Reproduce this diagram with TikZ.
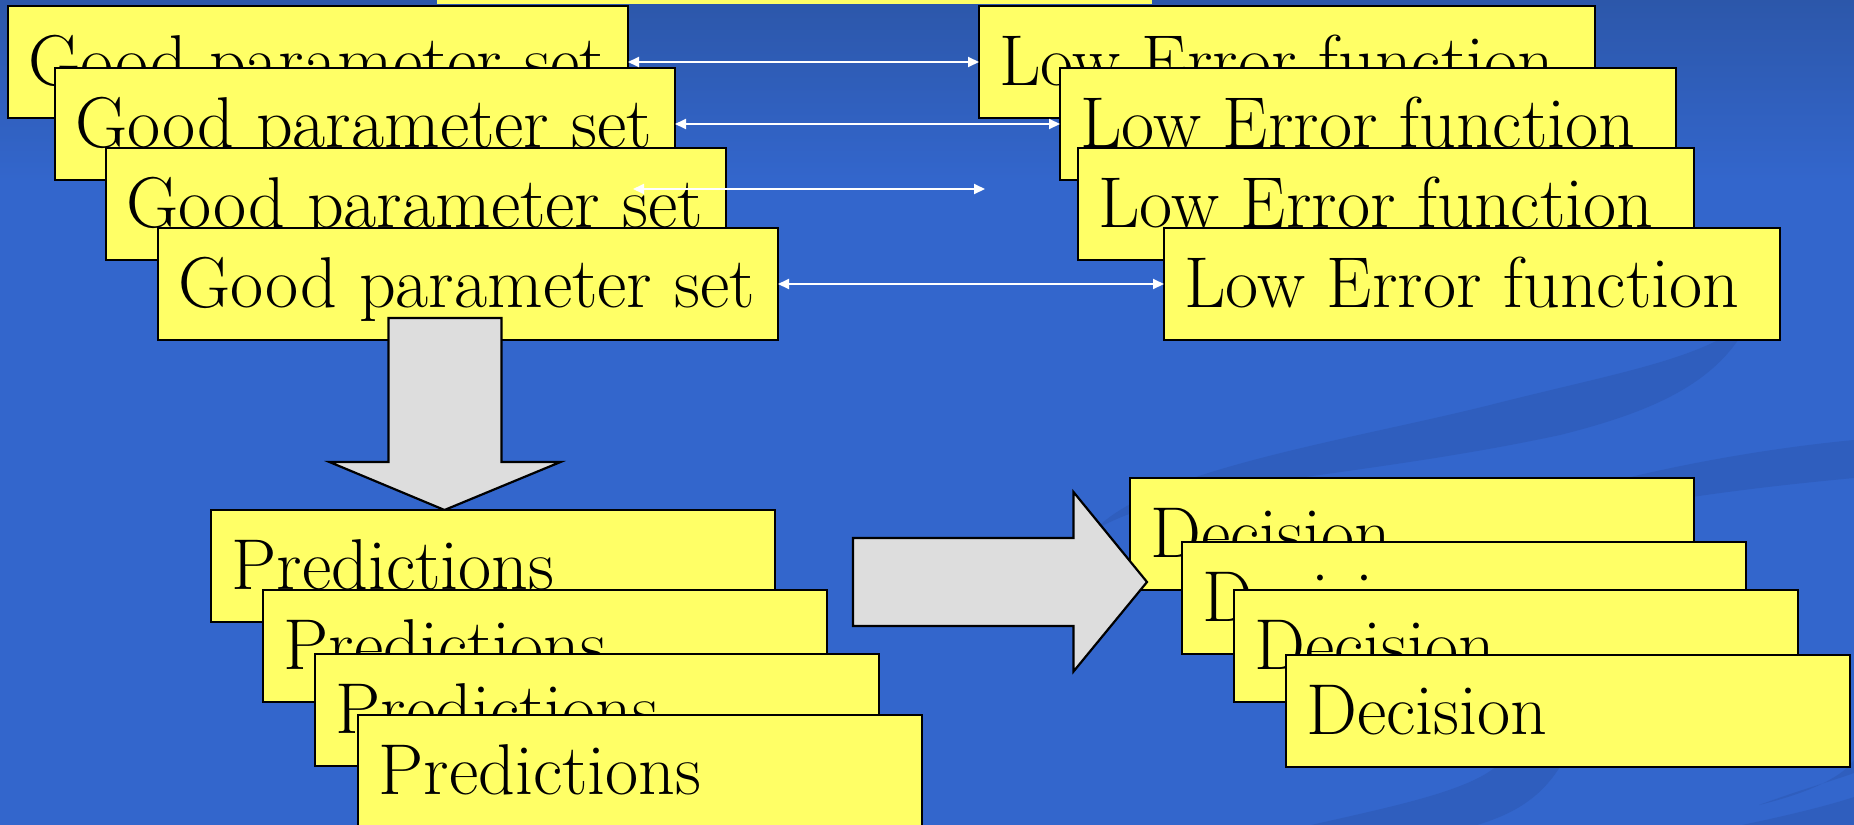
\documentclass[tikz,border=0pt]{standalone}
\usetikzlibrary{arrows.meta}

\definecolor{bgblue}{RGB}{51,102,204}
\definecolor{bgtop}{RGB}{44,87,170}
\definecolor{swoosh}{RGB}{47,94,190}
\definecolor{cardfill}{RGB}{255,255,102}
\definecolor{blockgray}{RGB}{221,221,221}

\tikzset{
  card/.style={rectangle, draw=black, line width=1.1pt, fill=cardfill,
    anchor=north west, inner sep=0pt, outer sep=0pt},
  cardtext/.style={anchor=base west, inner sep=0pt, text=black,
    font=\fontsize{36}{40}\selectfont},
  link/.style={draw=white, line width=1pt,
    {Triangle[length=5.5pt,width=5pt]}-{Triangle[length=5.5pt,width=5pt]}},
  block/.style={draw=black, line width=1.1pt, fill=blockgray, line join=miter},
}

% name, x, y, width, height (picture units), caption
\newcommand{\stackcard}[6]{%
  \node[card, minimum width=#4*0.5pt, minimum height=#5*0.5pt] (#1) at (#2,#3) {};
  \node[cardtext] (#1t) at ([xshift=10pt,yshift=-39.5pt]#1.north west) {#6};
}

\begin{document}
\begin{tikzpicture}[x=0.5pt,y=-0.5pt]
\useasboundingbox (0,0) rectangle (1854,825);
\clip (0,0) rectangle (1854,825);

% background
\fill[bgblue] (0,0) rectangle (1854,825);
\shade[top color=bgtop, bottom color=bgblue] (0,0) rectangle (1854,180);
\fill[swoosh] (1095,530) .. controls (1150,470) and (1350,440) .. (1490,405)
  .. controls (1620,372) and (1700,360) .. (1750,320)
  .. controls (1720,380) and (1660,410) .. (1560,435)
  .. controls (1350,480) and (1180,480) .. (1095,530) -- cycle;
\fill[swoosh] (1560,495) .. controls (1650,470) and (1750,450) .. (1854,440)
  -- (1854,478) .. controls (1780,485) and (1720,492) .. (1640,505) -- cycle;
\fill[swoosh] (1311,825) .. controls (1400,805) and (1470,790) .. (1498,765)
  -- (1561,765) .. controls (1540,800) and (1510,815) .. (1477,825) -- cycle;
\fill[swoosh] (1742,825) .. controls (1790,815) and (1830,805) .. (1854,797)
  -- (1854,825) -- cycle;
\fill[swoosh] (1759,805) .. controls (1800,790) and (1835,780) .. (1854,773)
  -- (1854,760) .. controls (1840,780) and (1800,795) .. (1759,805) -- cycle;

% title strip along the top edge
\fill[cardfill] (437,-10) rectangle (1152,4);

% parameter sets
\stackcard{g1}{8}{6}{620}{112}{Good parameter set}
\stackcard{g2}{55}{68}{620}{112}{Good parameter set}
\stackcard{g3}{106}{148}{620}{112}{Good parameter set}
\stackcard{g4}{158}{228}{620}{112}{Good parameter set}

% error functions
\stackcard{e1}{979}{6}{616}{112}{Low Error function}
\stackcard{e2}{1060}{68}{616}{112}{Low Error function}
\stackcard{e3}{1078}{148}{616}{112}{Low Error function}
\stackcard{e4}{1164}{228}{616}{112}{Low Error function}

% two-way links
\coordinate (m3a) at (633,189);
\coordinate (m3b) at (985,189);
\draw[link] (g1.east) -- (e1.west);
\draw[link] (g2.east) -- (e2.west);
\draw[link] (m3a) -- (m3b);
\draw[link] (g4.east) -- (e4.west);

% block arrow down
\draw[block] (388.5,318) -- (501.5,318) -- (501.5,462) -- (560.5,462)
  -- (444.5,510) -- (329.5,462) -- (388.5,462) -- cycle;

% predictions
\stackcard{p1}{211}{510}{564}{112}{Predictions}
\stackcard{p2}{263}{590}{564}{112}{Predictions}
\stackcard{p3}{315}{654}{564}{112}{Predictions}
\stackcard{p4}{358}{715}{564}{112}{Predictions}

% decisions
\stackcard{d1}{1130}{478}{564}{112}{Decision}
\stackcard{d2}{1182}{542}{564}{112}{Decision}
\stackcard{d3}{1234}{590}{564}{112}{Decision}
\stackcard{d4}{1286}{655}{564}{112}{Decision}

% block arrow right
\draw[block] (853,538) -- (1073.5,538) -- (1073.5,492) -- (1147,582)
  -- (1073.5,671.5) -- (1073.5,626) -- (853,626) -- cycle;
\end{tikzpicture}
\end{document}
